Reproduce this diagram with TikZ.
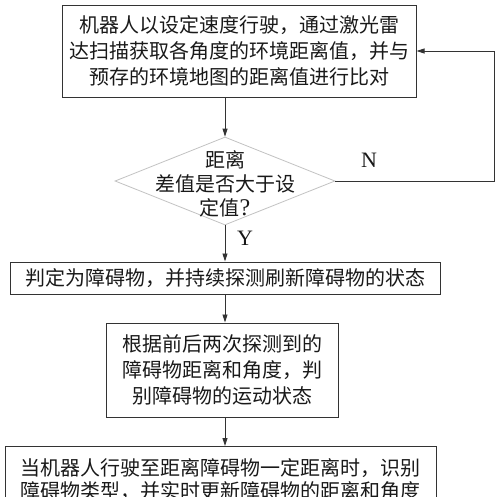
\documentclass[tikz,border=0pt]{standalone}
\usepackage{fontspec}
\setmainfont{Noto Sans CJK SC}
\newfontfamily\latfont{Liberation Serif}
\usetikzlibrary{shapes.geometric,arrows.meta}
\definecolor{linie}{rgb}{0.2,0.2,0.2}
\definecolor{raute}{rgb}{0.76,0.76,0.76}

\begin{document}
\begin{tikzpicture}[x=1pt,y=-1pt,
        schritt/.style={draw=linie, line width=1pt, align=center, inner sep=0pt, text=black!90, font=\fontsize{20}{26}\selectfont},
        entscheid/.style={diamond, draw=raute, line width=0.8pt, inner sep=0pt, minimum width=220pt, minimum height=88pt},
        pfeil/.style={draw=linie, line width=0.9pt, -{Triangle[length=8pt,width=5pt]}}]
        \useasboundingbox (0,0) rectangle (500,496);
        \clip (0,0) rectangle (500,496);

        \node[schritt, minimum width=354pt, minimum height=92pt] (start) at (239,51)
            {机器人以设定速度行驶，通过激光雷\\达扫描获取各角度的环境距离值，并与\\预存的环境地图的距离值进行比对};
        \node[entscheid] (abst) at (225,181) {};
        \node[align=center, text=black!90, font=\fontsize{20}{24}\selectfont] (absttext) at (225,184)
            {距离\\差值是否大于设\\定值{\latfont\fontsize{24}{24}\selectfont ?}};
        \node[schritt, minimum width=430pt, minimum height=32pt] (hind) at (225,278)
            {判定为障碍物，并持续探测刷新障碍物的状态};
        \node[schritt, minimum width=232pt, minimum height=94pt] (beweg) at (222,370)
            {根据前后两次探测到的\\障碍物距离和角度，判\\别障碍物的运动状态};
        \node[schritt, anchor=north, minimum width=431pt, minimum height=66pt, font=\fontsize{20}{23}\selectfont] (typ) at (220.5,446)
            {当机器人行驶至距离障碍物一定距离时，识别\\障碍物类型，并实时更新障碍物的距离和角度};

        \node[font=\latfont\fontsize{22}{22}\selectfont, text=black!90] (nein) at (369,160) {N};
        \node[font=\latfont\fontsize{22}{22}\selectfont, text=black!90] (ja) at (245,238) {Y};

        \draw[pfeil] (abst.north |- start.south) -- (abst.north);
        \draw[pfeil] (abst.south) -- (abst.south |- hind.north);
        \draw[pfeil] (abst.south |- hind.south) -- (abst.south |- beweg.north);
        \draw[pfeil] (abst.south |- beweg.south) -- (abst.south |- typ.north);
        \draw[pfeil] (abst.east) -| ([xshift=78pt]start.east) -- (start.east);
    \end{tikzpicture}
\end{document}
